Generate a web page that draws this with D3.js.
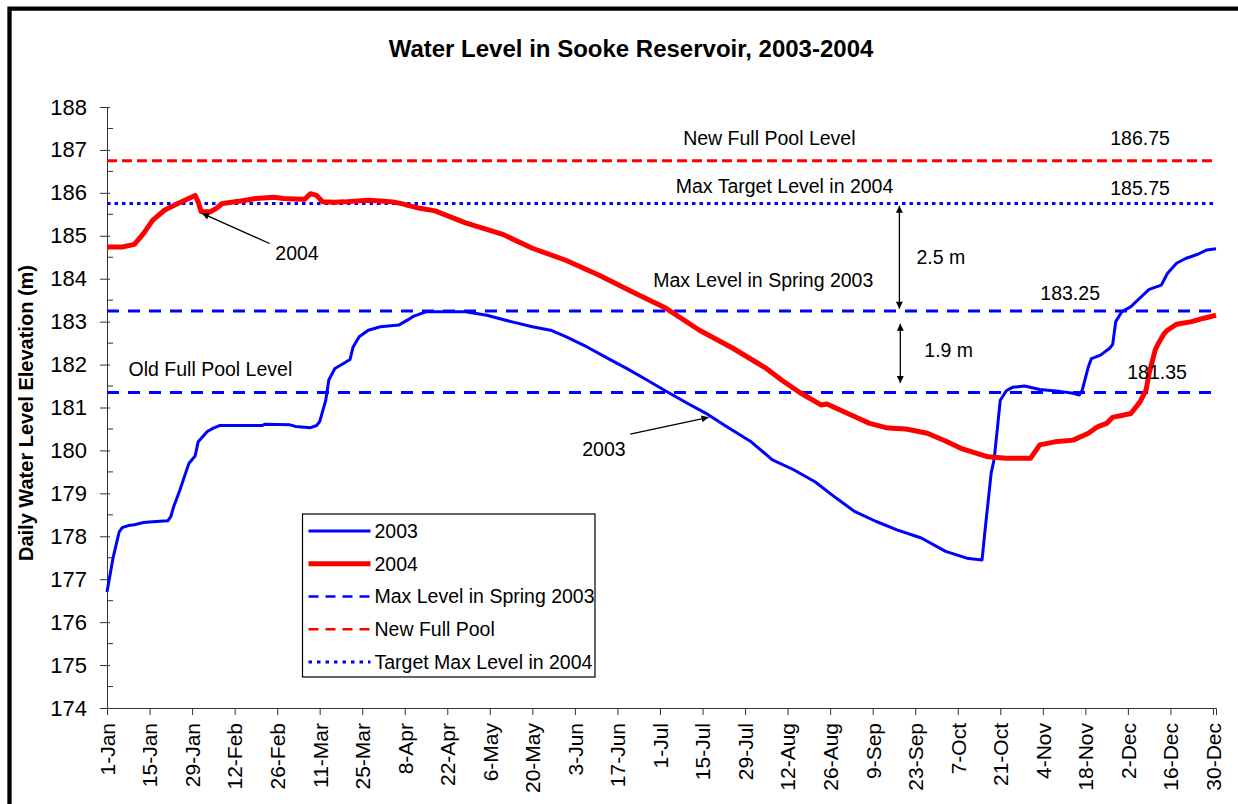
<!DOCTYPE html>
<html>

<head>
  <meta charset="utf-8">
  <title>Water Level in Sooke Reservoir</title>
  <style>
    html, body { margin: 0; padding: 0; background: #fff; overflow: hidden; }
    svg { display: block; }
    text { font-family: "Liberation Sans", Arial, sans-serif; fill: #000; }
  </style>
</head>

<body>
  <div id="graph"></div>

  <script src="https://cdn.jsdelivr.net/npm/d3@7"></script>

  <script>
    // day offsets from 1-Jan
    const days2003 = [0, 1, 2, 3, 4, 5, 7, 9, 12, 15, 20, 21, 22, 24, 26, 27, 29, 30, 32, 33, 35, 37, 45, 51, 52, 60, 62, 67, 69, 70,
      72, 73, 75, 77, 80, 81, 83, 86, 90, 96, 99, 101, 105, 118, 125, 133, 140, 146, 151, 158, 165, 171, 178, 184, 191, 197, 204, 212, 219, 226,
      233, 240, 246, 253, 260, 268, 276, 283, 288, 289, 291, 292, 293, 294, 296, 298, 302, 307, 314, 318, 320, 321, 323, 324, 327, 330, 331, 332, 334, 337,
      341, 343, 347, 349, 352, 355, 359, 362, 365];
    const level2003 = [176.7, 177.1, 177.5, 177.8, 178.1, 178.2, 178.25, 178.27, 178.32, 178.34, 178.36, 178.46, 178.7, 179.08, 179.5, 179.7, 179.87, 180.2, 180.36, 180.44,
      180.52, 180.58, 180.58, 180.58, 180.61, 180.6, 180.56, 180.53, 180.58, 180.67, 181.17, 181.64, 181.91, 181.99, 182.12, 182.41, 182.65, 182.8, 182.88, 182.92,
      183.04, 183.13, 183.23, 183.23, 183.15, 183.0, 182.88, 182.8, 182.65, 182.41, 182.14, 181.91, 181.63, 181.38, 181.1, 180.87, 180.55, 180.2, 179.78, 179.55,
      179.27, 178.89, 178.58, 178.35, 178.15, 177.96, 177.65, 177.49, 177.45, 178.15, 179.47, 179.8, 180.48, 181.17, 181.39, 181.47, 181.5, 181.42, 181.37, 181.33,
      181.29, 181.41, 181.95, 182.14, 182.22, 182.38, 182.47, 183.0, 183.23, 183.35, 183.62, 183.75, 183.85, 184.12, 184.36, 184.47, 184.57, 184.67, 184.7];

    const days2004 = [0, 5, 9, 12, 15, 19, 23, 26, 29, 30, 31, 34, 36, 38, 44, 49, 55, 58, 64, 65, 67, 69, 71, 75, 78, 86, 90, 94, 97, 99,
      103, 108, 118, 130, 140, 151, 162, 173, 184, 195, 206, 217, 222, 228, 235, 237, 240, 246, 251, 257, 263, 270, 276, 281, 290, 296, 304, 307, 312, 318,
      323, 326, 329, 331, 337, 340, 342, 343, 345, 346, 348, 349, 352, 357, 361, 365];
    const level2004 = [184.74, 184.74, 184.8, 185.05, 185.36, 185.6, 185.74, 185.84, 185.94, 185.79, 185.56, 185.56, 185.64, 185.75, 185.81, 185.87, 185.9, 185.87, 185.85, 185.85,
      185.98, 185.94, 185.79, 185.78, 185.79, 185.83, 185.81, 185.79, 185.75, 185.71, 185.64, 185.58, 185.3, 185.04, 184.71, 184.43, 184.08, 183.69, 183.31, 182.8,
      182.38, 181.91, 181.64, 181.35, 181.06, 181.08, 180.98, 180.79, 180.63, 180.52, 180.5, 180.4, 180.22, 180.05, 179.85, 179.82, 179.82, 180.13, 180.2, 180.24,
      180.4, 180.55, 180.63, 180.77, 180.86, 181.13, 181.41, 181.8, 182.34, 182.49, 182.73, 182.8, 182.94, 183.0, 183.08, 183.15];

    // constant reference levels
    const refNames = ["Max Level in Spring 2003", "New Full Pool", "Target Max Level in 2004", "Old Full Pool"];
    const refLevels = [183.25, 186.75, 185.75, 181.35];

    const legendNames = ["2003", "2004", "Max Level in Spring 2003", "New Full Pool", "Target Max Level in 2004"];

    // text notes (day offset, level)
    const noteText = ["New Full Pool Level", "186.75", "Max Target Level in 2004", "185.75", "Max Level in Spring 2003", "183.25",
      "2.5 m", "1.9 m", "181.35", "Old Full Pool Level", "2004", "2003"];
    const noteDay = [218, 340, 223, 340, 216, 317, 266.4, 269, 345.6, 7.1, 55.4, 156.4];
    const noteLevel = [187.11, 187.11, 185.99, 185.95, 183.8, 183.5, 184.34, 182.18, 181.66, 181.73, 184.43, 179.87];

    const yTicks = d3.range(174, 189, 1);
    const yMinor = d3.range(174.5, 188, 1);

    const start = new Date(2004, 0, 1);
    const end = new Date(2004, 11, 31);
    const dayDate = d => new Date(start.getTime() + d * 864e5);

    const width = 1238, height = 804;
    const plotLeft = 107, plotRight = 1216, plotTop = 107, plotBottom = 708;

    const svg = d3.select("#graph").append("svg")
      .attr("width", width)
      .attr("height", height);

    // chart frame (runs off the right and bottom)
    svg.append("path")
      .attr("d", `M${width + 10},8.7H9.5V${height + 10}`)
      .attr("fill", "none").attr("stroke", "#000").attr("stroke-width", 4.3);

    const x = d3.scaleTime()
      .domain([start, end])
      .range([plotLeft, plotRight]);
    const y = d3.scaleLinear()
      .domain([174, 188])
      .range([plotBottom, plotTop]);

    // arrow heads
    const defs = svg.append("defs");
    defs.append("marker")
      .attr("id", "head")
      .attr("viewBox", "0 0 10 10")
      .attr("refX", 10).attr("refY", 5)
      .attr("markerWidth", 8).attr("markerHeight", 7)
      .attr("markerUnits", "userSpaceOnUse")
      .attr("orient", "auto-start-reverse")
      .append("path")
      .attr("d", "M0,0L10,5L0,10z")
      .attr("fill", "#000");

    // title
    svg.append("text")
      .attr("x", 631).attr("y", 57)
      .attr("text-anchor", "middle")
      .attr("font-size", 24)
      .attr("font-weight", "bold")
      .text("Water Level in Sooke Reservoir, 2003-2004");

    // Y axis
    const yAxis = svg.append("g")
      .attr("transform", `translate(${plotLeft},0)`)
      .call(d3.axisLeft(y).tickValues(yTicks).tickSize(7).tickSizeOuter(0).tickPadding(13).tickFormat(d3.format("d")));
    yAxis.select(".domain").attr("stroke", "#333");
    yAxis.selectAll(".tick line").attr("stroke", "#333").attr("x2", 3).attr("x1", -7);
    yAxis.selectAll("text").attr("font-size", 22).attr("font-family", "Liberation Sans, Arial, sans-serif");
    yAxis.selectAll(".minor")
      .data(yMinor)
      .enter().append("line")
      .attr("class", "minor")
      .attr("x1", 0).attr("x2", 6)
      .attr("y1", d => y(d)).attr("y2", d => y(d))
      .attr("stroke", "#333");

    svg.append("text")
      .attr("transform", `translate(33,413) rotate(-90)`)
      .attr("text-anchor", "middle")
      .attr("font-size", 20)
      .attr("font-weight", "bold")
      .text("Daily Water Level Elevation (m)");

    // X axis, every 14 days
    const xTicks = d3.timeDay.range(start, end, 14);
    const xAxis = svg.append("g")
      .attr("transform", `translate(0,${plotBottom})`)
      .call(d3.axisBottom(x).tickValues(xTicks).tickSize(7).tickSizeOuter(7).tickFormat(d3.timeFormat("%-d-%b")));
    xAxis.select(".domain").attr("stroke", "#333");
    xAxis.selectAll(".tick line").attr("stroke", "#333");
    xAxis.selectAll("text")
      .attr("font-size", 21)
      .attr("font-family", "Liberation Sans, Arial, sans-serif")
      .attr("transform", "rotate(-90)")
      .attr("text-anchor", "end")
      .attr("x", -15).attr("y", 0)
      .attr("dy", "0.35em");

    // reference lines
    const refStyle = [
      { color: "#0000ff", dash: "12,9" },
      { color: "#ff0000", dash: "10,5" },
      { color: "#0000ff", dash: "3.5,4" },
      { color: "#0000ff", dash: "12,9" }
    ];
    svg.append("g").selectAll("line")
      .data(refLevels)
      .enter().append("line")
      .attr("x1", x(start)).attr("x2", x(end))
      .attr("y1", d => y(d)).attr("y2", d => y(d))
      .attr("stroke", (d, i) => refStyle[i].color)
      .attr("stroke-width", 3)
      .attr("stroke-dasharray", (d, i) => refStyle[i].dash);

    // series
    const line = d3.line()
      .x(d => x(dayDate(d[0])))
      .y(d => y(d[1]));

    svg.append("path")
      .datum(d3.zip(days2003, level2003))
      .attr("fill", "none")
      .attr("stroke", "#0000ff")
      .attr("stroke-width", 3)
      .attr("stroke-linejoin", "round")
      .attr("d", line);

    svg.append("path")
      .datum(d3.zip(days2004, level2004))
      .attr("fill", "none")
      .attr("stroke", "#ff0000")
      .attr("stroke-width", 5)
      .attr("stroke-linejoin", "round")
      .attr("d", line);

    // notes
    svg.append("g").selectAll("text")
      .data(noteText)
      .enter().append("text")
      .attr("x", (d, i) => x(dayDate(noteDay[i])))
      .attr("y", (d, i) => y(noteLevel[i]))
      .attr("text-anchor", (d, i) => [6, 7, 9, 10, 11].includes(i) ? "start" : "middle")
      .attr("font-size", 19.5)
      .text(d => d);

    // pointer arrows
    const arrows = [
      [[53.5, 184.82], [31.3, 185.52], false],
      [[172.2, 180.38], [198, 180.77], false],
      [[260.8, 185.7], [260.8, 183.3], true],
      [[261.1, 182.95], [261.1, 181.57], true]
    ];
    svg.append("g").selectAll("line")
      .data(arrows)
      .enter().append("line")
      .attr("x1", d => x(dayDate(d[0][0]))).attr("y1", d => y(d[0][1]))
      .attr("x2", d => x(dayDate(d[1][0]))).attr("y2", d => y(d[1][1]))
      .attr("stroke", "#000")
      .attr("stroke-width", 1.3)
      .attr("marker-end", "url(#head)")
      .attr("marker-start", d => d[2] ? "url(#head)" : null);

    // legend
    const legend = svg.append("g").attr("transform", "translate(302.5,514)");
    legend.append("rect")
      .attr("width", 292.5).attr("height", 163)
      .attr("fill", "#fff").attr("stroke", "#000").attr("stroke-width", 1.2);
    const legendStyle = [
      { color: "#0000ff", w: 3, dash: null },
      { color: "#ff0000", w: 5, dash: null },
      { color: "#0000ff", w: 2.5, dash: "10,7" },
      { color: "#ff0000", w: 2.5, dash: "10,7" },
      { color: "#0000ff", w: 3, dash: "3.5,5" }
    ];
    const item = legend.selectAll(".item")
      .data(legendNames)
      .enter().append("g")
      .attr("class", "item")
      .attr("transform", (d, i) => `translate(0,${17 + i * 32.75})`);
    item.append("line")
      .attr("x1", 6).attr("x2", 68)
      .attr("stroke", (d, i) => legendStyle[i].color)
      .attr("stroke-width", (d, i) => legendStyle[i].w)
      .attr("stroke-dasharray", (d, i) => legendStyle[i].dash);
    item.append("text")
      .attr("x", 72).attr("dy", "0.35em")
      .attr("font-size", 19.5)
      .text(d => d);
  </script>

</body>

</html>
